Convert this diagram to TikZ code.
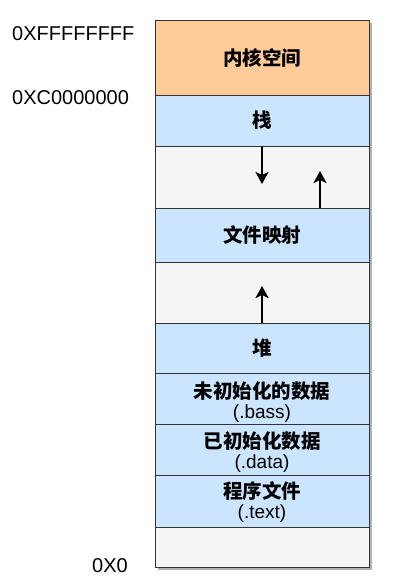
\documentclass[tikz,border=0pt]{standalone}
\usepackage{fontspec}
\setmainfont{Liberation Sans}
\newfontfamily\cjk{Noto Sans CJK SC}
\usetikzlibrary{arrows.meta}
\definecolor{kern}{HTML}{FFCC99}
\definecolor{seg}{HTML}{CCE5FF}
\definecolor{gap}{HTML}{F5F5F5}
\tikzset{
  stripe/.style={draw=black!80, line width=0.9pt, minimum width=214pt, inner sep=0pt, outer sep=0pt, align=center, text=black},
  addr/.style={anchor=west, font=\fontsize{20}{24}\selectfont, inner sep=0pt},
  cn/.style={font=\cjk\bfseries\fontsize{19.5}{24}\selectfont, inner sep=0pt},
  lat/.style={font=\fontsize{19}{22}\selectfont, inner sep=0pt},
  arr/.style={-{Stealth[length=12pt,width=13pt,inset=3pt]}, line width=2.4pt, black},
}
\begin{document}
\begin{tikzpicture}[x=1pt,y=-1pt]
\useasboundingbox (0,0) rectangle (408,584);
% shadow
\fill[black!30] (158,23) rectangle (372,570);
\node[stripe, fill=kern, minimum height=75pt, cn] (k) at (262,57.5) {内核空间};
\node[stripe, fill=seg, minimum height=51pt, cn] (s) at (262,120.5) {栈};
\node[stripe, fill=gap, minimum height=62pt] (g1) at (262,177) {};
\node[stripe, fill=seg, minimum height=54pt, cn] (f) at (262,235) {文件映射};
\node[stripe, fill=gap, minimum height=61pt] (g2) at (262,292.5) {};
\node[stripe, fill=seg, minimum height=50pt, cn] (h) at (262,348) {堆};
\node[stripe, fill=seg, minimum height=51pt] (b) at (262,398.5) {};
\node[stripe, fill=seg, minimum height=51pt] (d) at (262,449.5) {};
\node[stripe, fill=seg, minimum height=52pt] (t) at (262,501) {};
\node[stripe, fill=gap, minimum height=40pt] (g3) at (262,547) {};
% text in two-line segments
\node[cn] (bt1) at (262,391) {未初始化的数据};
\node[lat] (bt2) at (262,414) {(.bass)};
\node[cn] (dt1) at (262,441) {已初始化数据};
\node[lat] (dt2) at (262,464) {(.data)};
\node[cn] (tt1) at (262,491) {程序文件};
\node[lat] (tt2) at (262,514) {(.text)};
% arrows
\draw[arr] (s.south) -- ++(0,38);
\draw[arr] ([xshift=58pt]f.north) -- ++(0,-37);
\draw[arr] (h.north) -- ++(0,-37);
% addresses
\node[addr] (a1) at (12,34) {0XFFFFFFFF};
\node[addr] (a2) at (12,98) {0XC0000000};
\node[addr] (a3) at (92,566) {0X0};
\end{tikzpicture}
\end{document}
